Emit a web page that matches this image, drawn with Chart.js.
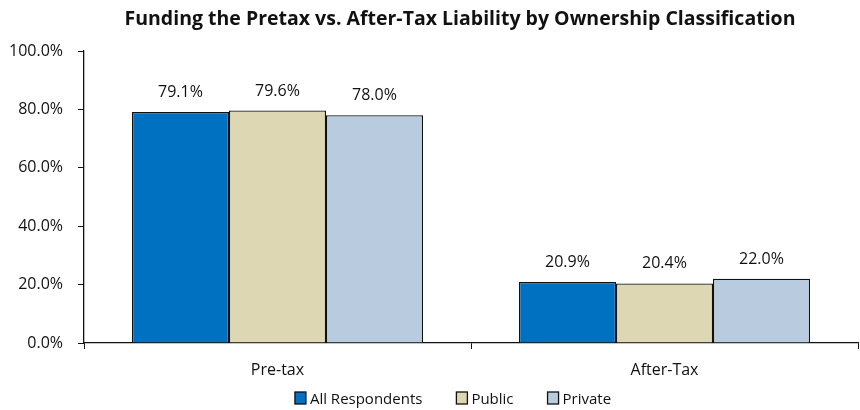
<!DOCTYPE html>
<html>
<head>
<meta charset="utf-8">
<script src="https://cdn.jsdelivr.net/npm/chart.js@4.4.1/dist/chart.umd.min.js"></script>
<style>
  html, body { margin: 0; padding: 0; background: #fff; }
  #wrap { width: 860px; height: 410px; }
</style>
</head>
<body>
<div id="wrap"><canvas id="chart" width="860" height="410"></canvas></div>
<script>
// Share of respondents funding each liability type, by ownership classification (%)
const categories = ['Pre-tax', 'After-Tax'];
const allRespondents = [79.1, 20.9];
const publicCos = [79.6, 20.4];
const privateCos = [78.0, 22.0];
const yTicks = [0, 20, 40, 60, 80, 100];

const FONT = '"Open Sans", "Noto Sans", sans-serif';
const INK = '#111';

// Writes each bar's value above it
const valueLabels = {
  id: 'valueLabels',
  afterDatasetsDraw(chart) {
    const ctx = chart.ctx;
    ctx.save();
    ctx.font = '16px ' + FONT;
    ctx.fillStyle = INK;
    ctx.textAlign = 'center';
    ctx.textBaseline = 'alphabetic';
    chart.data.datasets.forEach((ds, i) => {
      chart.getDatasetMeta(i).data.forEach((bar, j) => {
        ctx.fillText(ds.data[j].toFixed(1) + '%', bar.x, bar.y - 15);
      });
    });
    ctx.restore();
  }
};

// Series key along the bottom edge
const seriesKey = {
  id: 'seriesKey',
  afterDraw(chart) {
    const ctx = chart.ctx;
    const box = 11, gap = 4, spacing = 34, centerX = 453, boxTop = 392, baseline = 404;
    ctx.save();
    ctx.font = '15px ' + FONT;
    const items = chart.data.datasets.map(ds => ({
      text: ds.label, color: ds.backgroundColor, w: ctx.measureText(ds.label).width
    }));
    const total = items.reduce((s, it) => s + box + gap + it.w, 0) + spacing * (items.length - 1);
    let x = centerX - total / 2;
    items.forEach(it => {
      ctx.fillStyle = it.color;
      ctx.fillRect(x, boxTop, box, box + 1);
      ctx.strokeStyle = INK;
      ctx.lineWidth = 1.3;
      ctx.strokeRect(x, boxTop, box, box + 1);
      ctx.fillStyle = INK;
      ctx.textAlign = 'left';
      ctx.textBaseline = 'alphabetic';
      ctx.fillText(it.text, x + box + gap, baseline);
      x += box + gap + it.w + spacing;
    });
    ctx.restore();
  }
};

// Nudges the title block sideways
const titleShift = {
  id: 'titleShift',
  afterLayout(chart) {
    if (chart.titleBlock) { chart.titleBlock.left += 27; chart.titleBlock.right += 27; }
  }
};

new Chart(document.getElementById('chart'), {
  type: 'bar',
  data: {
    labels: categories,
    datasets: [
      { label: 'All Respondents', data: allRespondents, backgroundColor: '#0070C0' },
      { label: 'Public', data: publicCos, backgroundColor: '#DDD8B3' },
      { label: 'Private', data: privateCos, backgroundColor: '#B9CCDF' }
    ].map(d => Object.assign(d, { borderColor: INK, borderWidth: 1.3 }))
  },
  options: {
    responsive: false,
    animation: false,
    layout: { padding: { left: 8, right: 2, top: 0, bottom: 32 } },
    datasets: { bar: { categoryPercentage: 0.752, barPercentage: 1 } },
    plugins: {
      title: {
        display: true,
        text: 'Funding the Pretax vs. After-Tax Liability by Ownership Classification',
        color: INK,
        font: { family: FONT, size: 19.5, weight: 'bold' },
        padding: { top: 8.2, bottom: 19.4 }
      },
      legend: { display: false },
      tooltip: { enabled: false }
    },
    scales: {
      x: {
        afterFit(axis) { axis.height = 35; },
        grid: { offset: true, drawOnChartArea: false, drawTicks: true, tickLength: 6, color: INK },
        border: { color: INK, width: 1.3 },
        ticks: { color: INK, font: { family: FONT, size: 16 }, padding: 12 }
      },
      y: {
        min: 0,
        max: 100,
        afterFit(axis) { axis.width = 76; },
        afterBuildTicks(axis) { axis.ticks = yTicks.map(v => ({ value: v })); },
        grid: { drawOnChartArea: false, drawTicks: true, tickLength: 6, color: INK },
        border: { color: INK, width: 1.3 },
        ticks: {
          color: INK,
          font: { family: FONT, size: 16 },
          padding: 15,
          callback: v => v.toFixed(1) + '%'
        }
      }
    }
  },
  plugins: [valueLabels, seriesKey, titleShift]
});
</script>
</body>
</html>
